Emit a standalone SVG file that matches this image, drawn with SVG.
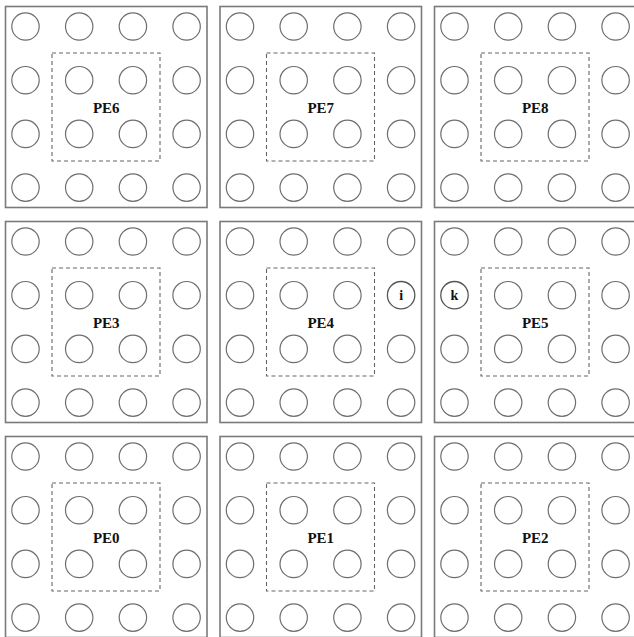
<svg xmlns="http://www.w3.org/2000/svg" xmlns:xlink="http://www.w3.org/1999/xlink" width="634" height="637" viewBox="0 0 634 637">
<style>
.pe{fill:none;stroke:#7a7a7a;stroke-width:1.6}
.c{fill:none;stroke:#6e6e6e;stroke-width:1.2}
.cd{fill:none;stroke:#555;stroke-width:1.3}
.d{fill:none;stroke:#666;stroke-width:1.1;stroke-dasharray:4 3}
.lbl{font-family:"Liberation Serif","Times New Roman",serif;font-weight:bold;font-size:15px;fill:#111;text-anchor:middle}
.sm{font-family:"Liberation Serif","Times New Roman",serif;font-weight:bold;font-size:14px;fill:#111;text-anchor:middle}
</style>
<defs>
<g id="cells">
<rect class="pe" x="0" y="0" width="201.5" height="201"/>
<rect class="d" x="46.5" y="46.5" width="108" height="108"/>
<circle class="c" cx="20" cy="20" r="13.7"/><circle class="c" cx="73.7" cy="20" r="13.7"/><circle class="c" cx="127.4" cy="20" r="13.7"/><circle class="c" cx="181.1" cy="20" r="13.7"/>
<circle class="c" cx="73.7" cy="73.7" r="13.7"/><circle class="c" cx="127.4" cy="73.7" r="13.7"/>
<circle class="c" cx="73.7" cy="127.4" r="13.7"/><circle class="c" cx="127.4" cy="127.4" r="13.7"/>
<circle class="c" cx="20" cy="127.4" r="13.7"/><circle class="c" cx="181.1" cy="127.4" r="13.7"/>
<circle class="c" cx="20" cy="181.1" r="13.7"/><circle class="c" cx="73.7" cy="181.1" r="13.7"/><circle class="c" cx="127.4" cy="181.1" r="13.7"/><circle class="c" cx="181.1" cy="181.1" r="13.7"/>
</g>
<circle id="cl" class="c" cx="20" cy="73.7" r="13.7"/>
<circle id="cr" class="c" cx="181.1" cy="73.7" r="13.7"/>
</defs>
<rect width="634" height="637" fill="#fff"/>
<g id="PE6" transform="translate(5.5,6.5)"><use xlink:href="#cells"/><use xlink:href="#cl"/><use xlink:href="#cr"/><text class="lbl" x="100.75" y="106">PE6</text></g>
<g id="PE7" transform="translate(220,6.5)"><use xlink:href="#cells"/><use xlink:href="#cl"/><use xlink:href="#cr"/><text class="lbl" x="100.75" y="106">PE7</text></g>
<g id="PE8" transform="translate(434.5,6.5)"><use xlink:href="#cells"/><use xlink:href="#cl"/><use xlink:href="#cr"/><text class="lbl" x="100.75" y="106">PE8</text></g>
<g id="PE3" transform="translate(5.5,221.5)"><use xlink:href="#cells"/><use xlink:href="#cl"/><use xlink:href="#cr"/><text class="lbl" x="100.75" y="106">PE3</text></g>
<g id="PE4" transform="translate(220,221.5)"><use xlink:href="#cells"/><use xlink:href="#cl"/><text class="lbl" x="100.75" y="106">PE4</text>
<g id="cell-i"><circle class="cd" cx="181.1" cy="73.7" r="13.7"/><text class="sm" x="181.1" y="78.5">i</text></g></g>
<g id="PE5" transform="translate(434.5,221.5)"><use xlink:href="#cells"/><use xlink:href="#cr"/><text class="lbl" x="100.75" y="106">PE5</text>
<g id="cell-k"><circle class="cd" cx="20" cy="73.7" r="13.7"/><text class="sm" x="20" y="78.5">k</text></g></g>
<g id="PE0" transform="translate(5.5,436.5)"><use xlink:href="#cells"/><use xlink:href="#cl"/><use xlink:href="#cr"/><text class="lbl" x="100.75" y="106">PE0</text></g>
<g id="PE1" transform="translate(220,436.5)"><use xlink:href="#cells"/><use xlink:href="#cl"/><use xlink:href="#cr"/><text class="lbl" x="100.75" y="106">PE1</text></g>
<g id="PE2" transform="translate(434.5,436.5)"><use xlink:href="#cells"/><use xlink:href="#cl"/><use xlink:href="#cr"/><text class="lbl" x="100.75" y="106">PE2</text></g>
<g id="connectors"/>
</svg>
